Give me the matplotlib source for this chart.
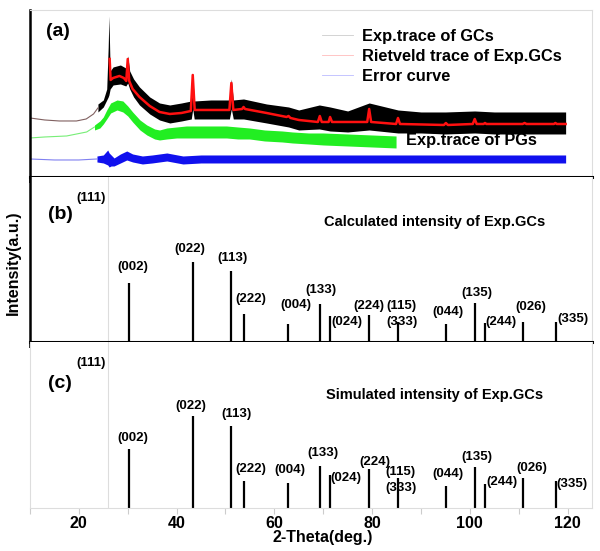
import matplotlib
matplotlib.use("Agg")
import matplotlib.pyplot as plt
from matplotlib.ticker import MultipleLocator

plt.rcParams['font.family'] = ['Liberation Sans', 'DejaVu Sans']
plt.rcParams['font.weight'] = 'bold'

gc_low_x = [10, 13, 16, 19.5, 21.5, 23.0, 23.9]
gc_low_y = [59, 57, 56, 56, 58, 63, 69]

gc_x = [23.9, 25.0, 25.7, 26.0, 26.15, 26.4, 27.0, 28.5, 29.6, 30.0, 30.4, 31.2, 32.4, 34.5,
        36.5, 38.6, 41.0, 43.0, 43.3, 43.6, 47.0, 50.8, 51.2, 51.6, 53.7, 58.4, 62.9, 65.0,
        69.2, 71.4, 75.0, 79.4, 85.3, 90.0, 95.0, 101.0, 105.0, 111.0, 117.5, 119.6]
gc_upper = [73, 77, 88, 130, 161, 106, 110, 112, 109, 121, 106, 98, 90, 80, 74, 72, 74, 76,
            104, 76, 77, 77, 98, 77, 78, 73, 70, 67, 72, 70, 66, 74, 67, 65, 65, 66, 65, 65, 65, 65]
gc_lower = [65, 70, 77, 80, 82, 88, 92, 93, 91, 94, 88, 80, 72, 63, 57, 54, 56, 58, 68, 58,
            58, 58, 68, 58, 58, 54, 50, 47, 48, 46, 45, 47, 44, 44, 43, 44, 43, 43, 43, 43]

riet_x = [26.3, 26.5, 27.0, 28.3, 29.2, 29.7, 30.0, 30.3, 31.0, 32.4, 34.5, 36.5, 38.6, 41.0,
          42.9, 43.3, 43.7, 50.8, 51.2, 51.6, 53.4, 53.7, 54.0, 58.4, 62.5, 62.9, 63.3, 65.0,
          68.9, 69.3, 69.7, 71.1, 71.4, 71.8, 79.0, 79.4, 79.8, 84.9, 85.3, 85.7, 94.7, 95.1,
          95.5, 100.6, 101.0, 101.4, 102.8, 103.1, 103.4, 110.8, 111.2, 111.6, 117.2, 117.5,
          117.8, 119.6]
riet_y = [118, 97, 99, 101, 99, 96, 118, 96, 88, 80, 71, 65, 63, 64, 66, 102, 67, 67, 94, 67,
          68, 70, 68, 64, 60, 61, 59, 57, 55, 61, 55, 55, 60, 55, 55, 68, 55, 53, 59, 53, 52,
          54, 52, 53, 58, 53, 53, 54, 53, 53, 54, 53, 53, 54, 53, 53]

pg_low_x = [10, 13, 17.5, 21.6, 23.2]
pg_low_y = [39, 40, 41, 45, 50]
pg_x = [23.2, 24.3, 25.0, 25.7, 26.5, 27.8, 29.0, 30.0, 31.0, 32.5, 33.9, 35.5, 36.5, 38.0,
        40.0, 42.0, 44.7, 47.0, 50.2, 52.5, 54.9, 58.0, 61.6, 63.7, 67.0, 70.0, 75.0, 80.0, 84.9]
pg_upper = [52, 56, 60, 67, 74, 77, 76, 71, 65, 57, 52, 48, 47, 49, 50, 51, 51, 51, 51, 50,
            49, 47, 46, 45, 44, 44, 43, 42, 41]
pg_lower = [47, 49, 53, 58, 64, 67, 65, 61, 55, 47, 42, 38, 37, 38, 39, 39, 39, 39, 39, 38,
            38, 36, 35, 34, 33, 32, 31, 30, 29]

err_low_x = [10, 15, 20, 23.7]
err_low_y = [18, 17, 17, 18]
err_x = [23.7, 25.0, 25.9, 26.2, 26.6, 27.2, 28.5, 29.8, 31.0, 33.0, 35.0, 38.0, 41.3, 45,
         60, 80, 100, 119.6]
err_upper = [21, 22, 27, 24, 22, 19, 23, 26, 23, 21, 22, 24, 21, 22, 22, 22, 22, 22]
err_lower = [15, 14, 12, 10, 11, 11, 14, 17, 15, 13, 14, 16, 13, 14, 14, 14, 14, 14]

# ---- panels (b), (c): reflections
hkl = ['(002)', '(022)', '(113)', '(222)', '(004)', '(133)', '(024)', '(224)', '(115)',
       '(044)', '(135)', '(244)', '(026)', '(335)']
peak_pos = [30.2, 43.3, 51.2, 53.7, 62.8, 69.4, 71.4, 79.4, 85.3, 95.1, 101.0, 103.1, 110.8, 117.6]
calc_int = [59, 80, 71, 28, 18, 38, 26, 27, 20, 18, 39, 19, 20, 20]
sim_int = [59, 91, 82, 27, 25, 42, 33, 39, 30, 22, 41, 24, 30, 27]
pos_111 = 26.0

# label positions (layout)
lab_x_b = [31.0, 42.7, 51.4, 55.1, 64.5, 69.6, 74.9, 79.4, 86.1, 95.5, 101.4, 106.3, 112.4, 121.0]
lab_y_b = [75, 93, 84, 43, 37, 52, 20, 36, 36, 30, 49, 20, 35, 23]
lab_x_c = [31.0, 42.9, 52.2, 55.1, 63.1, 70.0, 74.7, 80.6, 85.9, 95.5, 101.4, 106.5, 112.7, 120.8]
lab_y_c = [70, 101, 93, 39, 38, 55, 30, 46, 36, 34, 51, 26, 40, 24]

fig = plt.figure(figsize=(6, 5.51), dpi=100)
ax_a = fig.add_axes([0.05, 0.6788, 0.9367, 0.3031])
ax_b = fig.add_axes([0.05, 0.3793, 0.9367, 0.2995])
ax_c = fig.add_axes([0.05, 0.078, 0.9367, 0.3013])

light = '#dddddd'
for ax in (ax_a, ax_b, ax_c):
    ax.set_xlim(10, 125)
    ax.xaxis.set_major_locator(MultipleLocator(20))
    ax.xaxis.set_minor_locator(MultipleLocator(10))
    ax.set_yticks([])
    ax.spines['right'].set_color(light)
    ax.spines['right'].set_linewidth(0.8)

for ax in (ax_a, ax_b):
    ax.spines['left'].set_linewidth(1.8)
    ax.spines['bottom'].set_linewidth(2.2)
    ax.tick_params(axis='x', which='both', direction='out', length=4, width=1.2,
                   labelbottom=False, color='black')
ax_a.spines['top'].set_color(light)
ax_a.spines['top'].set_linewidth(0.8)
ax_b.spines['top'].set_visible(False)
ax_c.spines['top'].set_visible(False)
for s in ('left', 'bottom'):
    ax_c.spines[s].set_color(light)
    ax_c.spines[s].set_linewidth(0.8)
ax_c.tick_params(axis='x', which='both', direction='out', length=4, width=0.8,
                 color='#cccccc', labelsize=11.5, pad=2)
for lab in ax_c.get_xticklabels():
    lab.set_fontweight('bold')

# (a)
ax_a.set_ylim(0, 167)
ax_a.plot(gc_low_x, gc_low_y, color='#806060', lw=0.8)
ax_a.fill_between(gc_x, gc_lower, gc_upper, color='black', lw=0)
ax_a.plot(riet_x, riet_y, color='#ff1010', lw=1.8)
ax_a.plot(pg_low_x, pg_low_y, color='#77ee77', lw=0.8)
ax_a.fill_between(pg_x, pg_lower, pg_upper, color='#22ee22', lw=0)
ax_a.plot(err_low_x, err_low_y, color='#8080f0', lw=0.8)
ax_a.fill_between(err_x, err_lower, err_upper, color='#1010ee', lw=0)

h1, = ax_a.plot([], [], color='#cccccc', lw=0.6)
h2, = ax_a.plot([], [], color='#ffbbbb', lw=0.6)
h3, = ax_a.plot([], [], color='#bbbbff', lw=0.6)
ax_a.legend([h1, h2, h3], ['Exp.trace of GCs', 'Rietveld trace of Exp.GCs', 'Error curve'],
            loc='upper left', bbox_to_anchor=(0.52, 0.885), frameon=False, fontsize=11.8,
            handlelength=1.9, handletextpad=0.5, labelspacing=0.3, borderpad=0,
            borderaxespad=0)
ax_a.text(0.028, 0.874, '(a)', transform=ax_a.transAxes, fontsize=14, va='center')
ax_a.text(0.669, 0.216, 'Exp.trace of PGs', transform=ax_a.transAxes, fontsize=11.8, va='center')

# (b) and (c)
for ax, ints, lx, ly, title, tag, ty, tty in (
        (ax_b, calc_int, lab_x_b, lab_y_b, 'Calculated intensity of Exp.GCs', '(b)', 0.77, 0.73),
        (ax_c, sim_int, lab_x_c, lab_y_c, 'Simulated intensity of Exp.GCs', '(c)', 0.753, 0.681)):
    ax.set_ylim(0, 165)
    ax.axvline(pos_111, color='#dddddd', lw=0.8)
    ax.vlines(peak_pos, 0, ints, color='black', lw=1.6)
    for name, x, y in zip(hkl, lx, ly):
        ax.text(x, y, name, ha='center', va='center', fontsize=9.5)
    ax.text(22.4, 144, '(111)', ha='center', va='center', fontsize=9.5)
    ax.text(0.032, ty, tag, transform=ax.transAxes, fontsize=14, va='center')
    ax.text(0.72, tty, title, transform=ax.transAxes, fontsize=10.5, ha='center', va='center')
# (333) shares the stick with (115)
ax_b.text(86.1, 20, '(333)', ha='center', va='center', fontsize=9.5)
ax_c.text(85.9, 20, '(333)', ha='center', va='center', fontsize=9.5)

fig.text(0.023, 0.523, 'Intensity(a.u.)', rotation=90, ha='center', va='center', fontsize=11.5)
fig.text(0.537, 0.025, '2-Theta(deg.)', ha='center', va='center', fontsize=11.5)

fig.savefig('out.png', dpi=100, facecolor='white')
